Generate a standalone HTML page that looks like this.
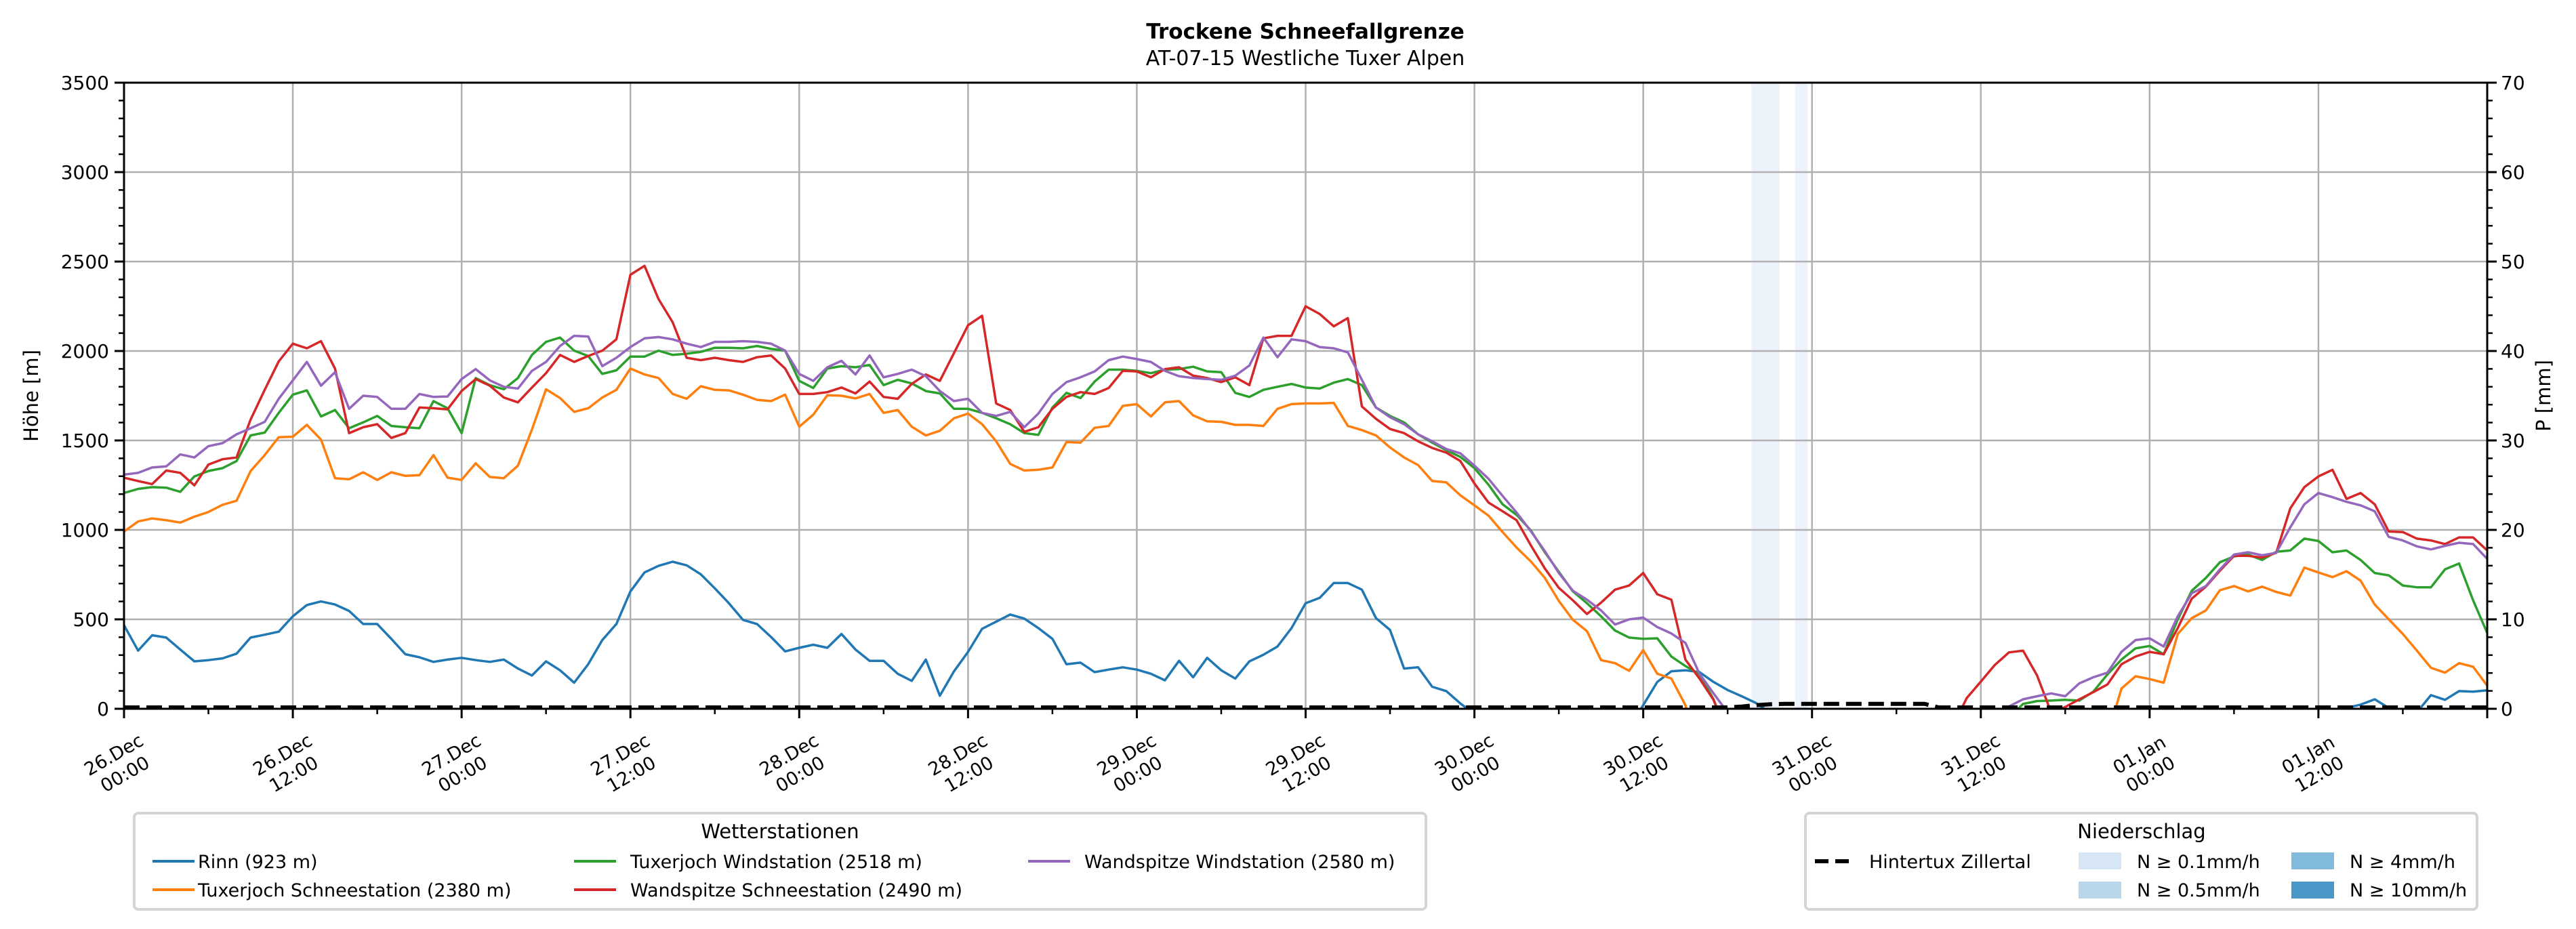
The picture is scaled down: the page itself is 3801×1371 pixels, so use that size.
<!DOCTYPE html>
<html><head><meta charset="utf-8">
<style>
html,body{margin:0;padding:0;background:#fff;}
svg{display:block;font-family:"DejaVu Sans","Liberation Sans",sans-serif;}
</style></head>
<body>
<svg id="chart" width="3801" height="1371" viewBox="0 0 3801 1371" xmlns="http://www.w3.org/2000/svg">
<rect x="0" y="0" width="3801" height="1371" fill="#fff"/>
<text x="1926" y="57" text-anchor="middle" font-size="31" font-weight="bold">Trockene Schneefallgrenze</text>
<text x="1926" y="96" text-anchor="middle" font-size="30">AT-07-15 Westliche Tuxer Alpen</text>
<defs><clipPath id="plotclip"><rect x="183" y="122" width="3487" height="924"/></clipPath></defs>
<g id="bands" clip-path="url(#plotclip)"></g>
<g id="grid"></g>
<g id="series" clip-path="url(#plotclip)"></g>
<g id="axes"></g>
<text transform="translate(56,584) rotate(-90)" text-anchor="middle" font-size="29">Höhe [m]</text>
<text transform="translate(3763,584) rotate(-90)" text-anchor="middle" font-size="29">P [mm]</text>

<g>
<rect x="198" y="1200" width="1906" height="142" rx="6" fill="#fff" stroke="#d4d4d4" stroke-width="4"/>
<text x="1151" y="1237" text-anchor="middle" font-size="29">Wetterstationen</text>
<g><line x1="225" y1="1271" x2="287" y2="1271" stroke="#1f77b4" stroke-width="4"/><text x="292" y="1281" font-size="27">Rinn (923 m)</text></g>
<g><line x1="225" y1="1313" x2="287" y2="1313" stroke="#ff7f0e" stroke-width="4"/><text x="292" y="1323" font-size="27">Tuxerjoch Schneestation (2380 m)</text></g>
<g><line x1="847" y1="1271" x2="909" y2="1271" stroke="#2ca02c" stroke-width="4"/><text x="930" y="1281" font-size="27">Tuxerjoch Windstation (2518 m)</text></g>
<g><line x1="847" y1="1313" x2="909" y2="1313" stroke="#d62728" stroke-width="4"/><text x="930" y="1323" font-size="27">Wandspitze Schneestation (2490 m)</text></g>
<g><line x1="1517" y1="1271" x2="1579" y2="1271" stroke="#9467bd" stroke-width="4"/><text x="1600" y="1281" font-size="27">Wandspitze Windstation (2580 m)</text></g>
</g>

<g>
<rect x="2664" y="1200" width="991" height="142" rx="6" fill="#fff" stroke="#d4d4d4" stroke-width="4"/>
<text x="3160" y="1237" text-anchor="middle" font-size="29">Niederschlag</text>
<g><line x1="2678" y1="1271" x2="2732" y2="1271" stroke="#000" stroke-width="6" stroke-dasharray="20,10"/><text x="2758" y="1281" font-size="27">Hintertux Zillertal</text></g>
<g><rect x="3067" y="1258" width="63" height="25" fill="#d6e6f4"/><text x="3153" y="1281" font-size="27">N ≥ 0.1mm/h</text></g>
<g><rect x="3067" y="1301" width="63" height="25" fill="#b9d5ea"/><text x="3153" y="1323" font-size="27">N ≥ 0.5mm/h</text></g>
<g><rect x="3381" y="1258" width="63" height="25" fill="#82bbdb"/><text x="3467" y="1281" font-size="27">N ≥ 4mm/h</text></g>
<g><rect x="3381" y="1301" width="63" height="25" fill="#4a98c9"/><text x="3467" y="1323" font-size="27">N ≥ 10mm/h</text></g>
</g>
</svg>
<script>
// hourly values, hour 0 = 26.Dec 00:00
const rinn = [467,325,411,398,331,265,272,282,308,398,414,431,
517,580,600,583,547,474,474,391,305,288,262,275,
285,272,262,275,225,186,265,215,146,249,384,474,
656,762,799,822,802,752,673,590,497,474,401,321,
341,358,341,418,331,268,268,196,156,275,73,209,
318,447,487,527,504,451,391,249,258,205,219,232,
219,196,159,268,176,285,215,169,265,302,348,451,
590,620,703,703,666,507,441,225,232,123,99,30,
-30,-150,-150,-150,-150,-150,-150,-150,-150,-150,-150,-100,
20,150,210,215,205,150,105,70,33,-20,-100,-100,
-100,-100,-100,-100,-100,-100,-100,-100,-100,-100,-100,-100,
-100,-100,-100,-100,-100,-100,-100,-100,-100,-100,-100,-100,
-100,-100,-100,-100,-100,-100,-100,-100,-100,-100,-100,-100,
-100,-50,5,23,53,5,-40,-20,76,50,99,96,
103];
const tuxSchnee = [991,1047,1064,1054,1041,1074,1100,1140,1163,1329,1418,1518,
1521,1587,1505,1289,1283,1322,1279,1322,1302,1306,1418,1292,
1279,1372,1296,1289,1359,1561,1786,1737,1660,1680,1740,1783,
1902,1869,1849,1760,1733,1803,1783,1780,1756,1727,1720,1756,
1577,1644,1753,1750,1735,1760,1654,1670,1577,1528,1554,1624,
1650,1591,1495,1369,1332,1336,1349,1491,1488,1571,1581,1693,
1703,1634,1713,1720,1640,1607,1604,1587,1587,1581,1677,1703,
1707,1707,1710,1581,1558,1528,1461,1405,1362,1273,1266,1193,
1137,1080,988,901,825,732,603,497,434,272,255,212,
328,196,169,20,-300,-300,-300,-300,-300,-300,-300,-300,
-300,-300,-300,-300,-300,-300,-300,-300,-300,-300,-300,-300,
-300,-300,-300,-300,-300,-300,-300,-300,-300,-150,113,182,
166,146,418,507,550,663,686,656,683,653,633,789,
762,736,769,716,583,500,418,325,229,202,255,235,
129];
const tuxWind = [1206,1229,1239,1236,1213,1299,1329,1345,1385,1528,1544,1654,
1756,1780,1634,1670,1568,1601,1637,1581,1574,1568,1720,1680,
1541,1849,1809,1786,1849,1978,2051,2075,2002,1972,1872,1892,
1969,1969,2002,1978,1985,1995,2018,2018,2015,2028,2012,2002,
1833,1793,1902,1915,1909,1922,1809,1839,1819,1776,1763,1677,
1677,1654,1624,1591,1541,1531,1684,1766,1737,1829,1896,1896,
1889,1876,1896,1899,1912,1886,1882,1766,1743,1783,1800,1816,
1796,1790,1823,1843,1809,1684,1637,1601,1534,1488,1445,1408,
1345,1253,1143,1084,998,875,766,656,590,517,437,398,
391,394,292,239,192,53,-150,-300,-300,-300,-300,-300,
-300,-300,-300,-300,-300,-300,-300,-300,-300,-300,-300,-300,
-300,-300,-50,27,43,46,50,46,96,192,275,338,
351,305,500,660,732,819,852,862,832,878,885,951,
938,875,885,832,759,746,689,679,679,779,812,606,
424];
const wandSchnee = [1292,1273,1256,1332,1319,1249,1365,1395,1405,1617,1783,1942,
2041,2015,2055,1902,1541,1574,1591,1514,1541,1684,1680,1674,
1776,1843,1806,1740,1713,1796,1876,1978,1939,1972,2002,2065,
2426,2476,2290,2161,1962,1949,1962,1949,1939,1965,1975,1902,
1760,1760,1770,1796,1763,1829,1743,1733,1816,1869,1833,1988,
2144,2197,1707,1670,1548,1574,1677,1743,1770,1760,1793,1889,
1886,1853,1899,1909,1862,1849,1826,1853,1809,2071,2085,2085,
2250,2207,2138,2184,1690,1621,1564,1541,1495,1458,1432,1385,
1259,1153,1104,1054,915,785,676,606,530,593,666,689,
759,640,610,275,169,50,-150,-300,-300,-300,-300,-300,
-300,-300,-300,-300,-300,-300,-300,-300,-300,-300,-100,60,
152,245,315,325,186,-20,10,53,93,136,249,292,
318,305,451,616,683,772,855,855,845,872,1120,1239,
1299,1336,1173,1206,1143,991,988,951,941,921,958,958,
885];
const wandWind = [1309,1319,1349,1355,1422,1405,1468,1485,1534,1568,1604,1733,
1836,1939,1806,1882,1677,1750,1743,1677,1677,1760,1743,1746,
1843,1899,1836,1800,1790,1889,1939,2028,2085,2081,1915,1962,
2022,2071,2078,2065,2041,2022,2051,2051,2055,2051,2041,2002,
1872,1833,1909,1945,1869,1975,1853,1872,1896,1859,1776,1720,
1733,1654,1637,1660,1574,1650,1760,1826,1853,1886,1949,1969,
1955,1939,1889,1859,1849,1843,1839,1862,1919,2075,1965,2065,
2055,2022,2015,1992,1839,1684,1630,1591,1534,1495,1452,1428,
1359,1286,1190,1097,994,882,759,660,610,550,471,500,
510,457,421,368,196,86,-20,-300,-300,-300,-300,-300,
-300,-300,-300,-300,-300,-300,-300,-300,-300,-300,-300,-300,
-300,-50,13,53,70,86,70,142,176,202,318,384,
394,348,517,646,686,779,862,875,858,872,1014,1143,
1206,1183,1157,1137,1104,961,941,908,891,911,928,921,
838];
// Hintertux precipitation sum (mm)
const hintertux = [0,0,0,0,0,0,0,0,0,0,0,0,
0,0,0,0,0,0,0,0,0,0,0,0,
0,0,0,0,0,0,0,0,0,0,0,0,
0,0,0,0,0,0,0,0,0,0,0,0,
0,0,0,0,0,0,0,0,0,0,0,0,
0,0,0,0,0,0,0,0,0,0,0,0,
0,0,0,0,0,0,0,0,0,0,0,0,
0,0,0,0,0,0,0,0,0,0,0,0,
0,0,0,0,0,0,0,0,0,0,0,0,
0,0,0,0,0,0,0,0.1,0.25,0.35,0.4,0.4,
0.4,0.4,0.4,0.4,0.4,0.4,0.4,0.4,0.4,0,0,0,
0,0,0,0,0,0,0,0,0,0,0,0,
0,0,0,0,0,0,0,0,0,0,0,0,
0,0,0,0,0,0,0,0,0,0,0,0,
0];
const bandStart = [115.7, 118.8];
const bandEnd = [117.7, 119.7];
const leftTicks = [0,500,1000,1500,2000,2500,3000,3500];
const rightTicks = [0,10,20,30,40,50,60,70];
const xTickDates = ["26.Dec","26.Dec","27.Dec","27.Dec","28.Dec","28.Dec","29.Dec","29.Dec","30.Dec","30.Dec","31.Dec","31.Dec","01.Jan","01.Jan"];
const xTickTimes = ["00:00","12:00","00:00","12:00","00:00","12:00","00:00","12:00","00:00","12:00","00:00","12:00","00:00","12:00"];

const NS='http://www.w3.org/2000/svg';
const X0=183,X1=3670,Y0=1046,Y1=122,HMAX=168,VMAX=3500,PMAX=70;
const xs=h=>X0+h*(X1-X0)/HMAX;
const ys=v=>Y0-v*(Y0-Y1)/VMAX;
const yp=p=>Y0-p*(Y0-Y1)/PMAX;
function mk(tag,attrs,parent){const e=document.createElementNS(NS,tag);for(const k in attrs)e.setAttribute(k,attrs[k]);parent.appendChild(e);return e;}

const bands=document.getElementById('bands');
bandStart.forEach((s,i)=>{
  const r=mk('rect',{x:xs(s),y:Y1,width:xs(bandEnd[i])-xs(s),height:Y0-Y1,fill:'#edf3fb'},bands);
  
  
});

const grid=document.getElementById('grid');
leftTicks.forEach(v=>{
  const l=mk('line',{x1:X0,x2:X1,y1:ys(v),y2:ys(v),stroke:'#b0b0b0','stroke-width':2.5},grid);
  
  
});
xTickDates.forEach((d,i)=>{
  const l=mk('line',{x1:xs(i*12),x2:xs(i*12),y1:Y1,y2:Y0,stroke:'#b0b0b0','stroke-width':2.5},grid);
  
  
});

const series=document.getElementById('series');
const defs=[[rinn,'#1f77b4','rinn-line'],[tuxSchnee,'#ff7f0e','tuxerjoch-schnee-line'],[tuxWind,'#2ca02c','tuxerjoch-wind-line'],[wandSchnee,'#d62728','wandspitze-schnee-line'],[wandWind,'#9467bd','wandspitze-wind-line']];
defs.forEach(([arr,col,name])=>{
  const d=arr.map((v,i)=>(i?'L':'M')+xs(i).toFixed(1)+' '+ys(v).toFixed(1)).join(' ');
  const p=mk('path',{d:d,fill:'none',stroke:col,'stroke-width':3.5,'stroke-linejoin':'round'},series);
  
  
});
{
  const d=hintertux.map((v,i)=>(i?'L':'M')+xs(i).toFixed(1)+' '+(yp(v)-2).toFixed(1)).join(' ');
  const p=mk('path',{d:d,fill:'none',stroke:'#000','stroke-width':6,'stroke-dasharray':'23,10'},series);
  
  
}

const axes=document.getElementById('axes');
const frame=mk('rect',{x:X0,y:Y1,width:X1-X0,height:Y0-Y1,fill:'none',stroke:'#000','stroke-width':3},axes);


for(let v=0;v<=VMAX;v+=100){
  const major=v%500===0;
  const t=mk('line',{x1:X0-(major?14:8),x2:X0,y1:ys(v),y2:ys(v),stroke:'#000','stroke-width':major?3:2.5},axes);
  
  
}
leftTicks.forEach(v=>{
  const t=mk('text',{x:X0-22,y:ys(v)+10,'text-anchor':'end','font-size':28},axes);
  t.textContent=v;
  
  
});
for(let p=0;p<=PMAX;p+=2){
  const major=p%10===0;
  const t=mk('line',{x1:X1,x2:X1+(major?14:8),y1:yp(p),y2:yp(p),stroke:'#000','stroke-width':major?3:2.5},axes);
  
  
}
rightTicks.forEach(p=>{
  const t=mk('text',{x:X1+20,y:yp(p)+10,'text-anchor':'start','font-size':28},axes);
  t.textContent=p;
  
  
});
for(let h=0;h<=HMAX;h+=6){
  const major=h%12===0;
  const t=mk('line',{x1:xs(h),x2:xs(h),y1:Y0,y2:Y0+(major?14:8),stroke:'#000','stroke-width':major?3:2.5},axes);
  
  
}
xTickDates.forEach((d,i)=>{
  const cx=xs(i*12)-7, cy=1128;
  const g=mk('text',{transform:`translate(${cx},${cy}) rotate(-30)`,'text-anchor':'middle','font-size':27},axes);
  
  
  const a=mk('tspan',{x:0,y:-7},g);a.textContent=d;
  const b=mk('tspan',{x:0,y:26},g);b.textContent=xTickTimes[i];
});
</script>
</body></html>
